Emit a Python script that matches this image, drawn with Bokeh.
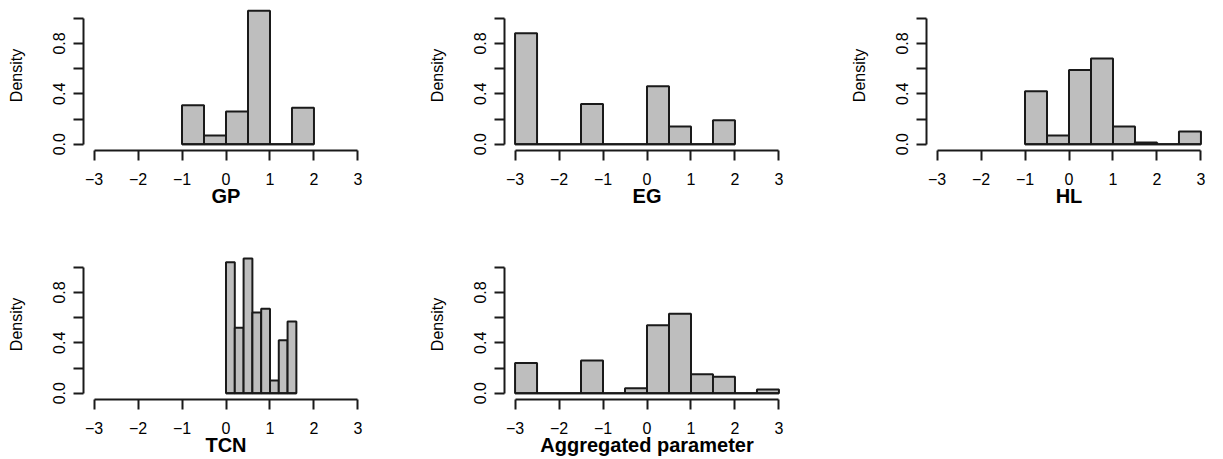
from bokeh.plotting import figure
from bokeh.layouts import column, row
from bokeh.models import FixedTicker, NumeralTickFormatter, Range1d
from bokeh.embed import file_html
from bokeh.resources import INLINE

# ---- data (densities) ----
GP_edges = [-1.0, -0.5, 0.0, 0.5, 1.0, 1.5, 2.0]
GP_density = [0.31, 0.07, 0.26, 1.06, 0.0, 0.29]

EG_edges = [-3.0, -2.5, -2.0, -1.5, -1.0, -0.5, 0.0, 0.5, 1.0, 1.5, 2.0]
EG_density = [0.88, 0.0, 0.0, 0.32, 0.0, 0.0, 0.46, 0.14, 0.0, 0.19]

HL_edges = [-1.0, -0.5, 0.0, 0.5, 1.0, 1.5, 2.0, 2.5, 3.0]
HL_density = [0.42, 0.07, 0.59, 0.68, 0.14, 0.013, 0.0, 0.10]

TCN_edges = [0.0, 0.2, 0.4, 0.6, 0.8, 1.0, 1.2, 1.4, 1.6]
TCN_density = [1.04, 0.52, 1.07, 0.64, 0.67, 0.10, 0.42, 0.57]

AGG_edges = [-3.0, -2.5, -2.0, -1.5, -1.0, -0.5, 0.0, 0.5, 1.0, 1.5, 2.0, 2.5, 3.0]
AGG_density = [0.24, 0.0, 0.0, 0.26, 0.0, 0.04, 0.54, 0.63, 0.15, 0.13, 0.0, 0.03]

x_ticks = [-3, -2, -1, 0, 1, 2, 3]
y_major = [0.0, 0.4, 0.8]
y_minor = [0.2, 0.6, 1.0]
y_label = "Density"

FONT = "Liberation Sans"
INK = "#1a1a1a"
FILL = "#BEBEBE"
LW = 2
FRAME_H = 150


def panel(edges, dens, xlabel, width, left_border, right_border, height):
    p = figure(width=width, height=height, output_backend="svg", toolbar_location=None,
               x_range=Range1d(-3.24, 3.24), y_range=Range1d(-0.05, 1.141),
               min_border_left=left_border, min_border_right=right_border,
               min_border_top=0, min_border_bottom=height - FRAME_H)
    p.outline_line_color = None
    p.grid.visible = False
    p.background_fill_color = "white"
    p.border_fill_color = "white"

    p.quad(left=edges[:-1], right=edges[1:], bottom=0, top=dens,
           fill_color=FILL, line_color=INK, line_width=LW)
    p.segment(x0=[edges[0]], x1=[edges[-1]], y0=[0], y1=[0], line_color=INK, line_width=LW)

    xa = p.xaxis[0]
    xa.ticker = FixedTicker(ticks=x_ticks, minor_ticks=[])
    xa.bounds = (x_ticks[0], x_ticks[-1])
    xa.axis_label = xlabel
    xa.axis_label_text_font = FONT
    xa.axis_label_text_font_style = "bold"
    xa.axis_label_text_font_size = "20px"
    xa.axis_label_text_color = "black"
    xa.axis_label_standoff = -3
    xa.major_label_text_font = FONT
    xa.major_label_text_font_size = "16px"
    xa.major_label_text_color = "black"
    xa.major_label_standoff = 12

    ya = p.yaxis[0]
    ya.ticker = FixedTicker(ticks=y_major, minor_ticks=y_minor)
    ya.formatter = NumeralTickFormatter(format="0.0")
    ya.bounds = (0, 1.0)
    ya.axis_label = y_label
    ya.axis_label_text_font = FONT
    ya.axis_label_text_font_style = "normal"
    ya.axis_label_text_font_size = "16px"
    ya.axis_label_text_color = "black"
    ya.axis_label_standoff = 26
    ya.major_label_text_font = FONT
    ya.major_label_text_font_size = "16px"
    ya.major_label_text_color = "black"
    ya.major_label_orientation = "vertical"
    ya.major_label_standoff = 8

    for ax in (xa, ya):
        ax.axis_line_color = INK
        ax.axis_line_width = LW
        ax.major_tick_line_color = INK
        ax.major_tick_line_width = LW
        ax.major_tick_out = 10
        ax.major_tick_in = 0
        ax.minor_tick_line_color = INK
        ax.minor_tick_line_width = LW
        ax.minor_tick_out = 10
        ax.minor_tick_in = 0
    return p


H1, H2 = 249, 210
p1 = panel(GP_edges, GP_density, "GP", 421, 83, 53, H1)
p2 = panel(EG_edges, EG_density, "EG", 422, 83, 54, H1)
p3 = panel(HL_edges, HL_density, "HL", 380, 83, 12, H1)
p4 = panel(TCN_edges, TCN_density, "TCN", 421, 83, 53, H2)
p5 = panel(AGG_edges, AGG_density, "Aggregated parameter", 422, 83, 54, H2)

layout = column(row(p1, p2, p3), row(p4, p5))
open("out.html", "w").write(file_html(layout, INLINE))
